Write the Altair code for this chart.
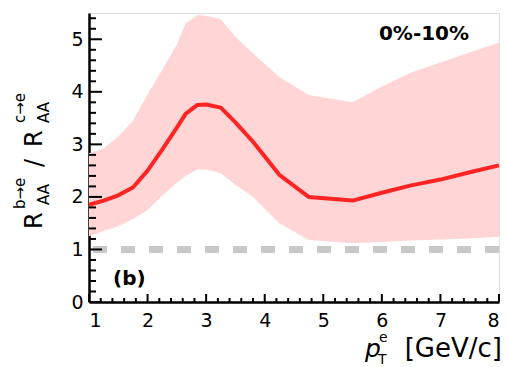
import altair as alt
import pandas as pd

# pT grid (GeV/c), central ratio and uncertainty band edges
pt = [1.0, 1.25, 1.5, 1.75, 2.0, 2.25, 2.5, 2.65, 2.85, 3.0, 3.25, 3.5, 3.8,
      4.25, 4.75, 5.5, 6.0, 6.5, 7.0, 7.5, 8.0]
ratio = [1.85, 1.93, 2.03, 2.18, 2.5, 2.9, 3.32, 3.58, 3.75, 3.76, 3.7, 3.42,
         3.05, 2.42, 2.0, 1.93, 2.08, 2.22, 2.33, 2.47, 2.6]
band_lo = [1.25, 1.35, 1.44, 1.58, 1.75, 2.02, 2.27, 2.4, 2.52, 2.52, 2.45,
           2.23, 2.0, 1.5, 1.18, 1.12, 1.14, 1.17, 1.19, 1.21, 1.24]
band_hi = [2.83, 2.92, 3.15, 3.45, 3.95, 4.42, 4.9, 5.3, 5.46, 5.45, 5.38,
           5.05, 4.73, 4.28, 3.94, 3.8, 4.1, 4.37, 4.56, 4.75, 4.94]

x_labels = [1, 2, 3, 4, 5, 6, 7, 8]
y_labels = [0, 1, 2, 3, 4, 5]
unity = [1.0]

W, H = 410, 289
FONT = "DejaVu Sans"

df = pd.DataFrame({"pt": pt, "ratio": ratio, "lo": band_lo, "hi": band_hi})

xs = alt.Scale(domain=[1, 8], nice=False, zero=False)
ys = alt.Scale(domain=[0, 5.5], nice=False, zero=True)

x_axis = alt.Axis(values=x_labels, title=None, ticks=False, grid=False,
                  labelFontSize=19, labelFont=FONT, labelPadding=9,
                  domainColor="black", domainWidth=2.5, format="d")
y_axis = alt.Axis(values=y_labels, title=None, ticks=False, grid=False,
                  labelFontSize=19, labelFont=FONT, labelPadding=6,
                  domainColor="black", domainWidth=2.5, format="d")

band = alt.Chart(df).mark_area(color="#ffd5d5", interpolate="linear").encode(
    x=alt.X("pt:Q", scale=xs, axis=x_axis),
    y=alt.Y("lo:Q", scale=ys, axis=y_axis),
    y2="hi:Q",
)

line = alt.Chart(df).mark_line(color="#ff2424", strokeWidth=4,
                               interpolate="linear", strokeJoin="round").encode(
    x=alt.X("pt:Q", scale=xs),
    y=alt.Y("ratio:Q", scale=ys),
)

ref = alt.Chart(pd.DataFrame({"y": unity})).mark_rule(
    color="#c8c8c8", strokeWidth=7, strokeDash=[14, 14], strokeDashOffset=-4
).encode(y=alt.Y("y:Q", scale=ys), x=alt.value(0), x2=alt.value(W))

# inward-pointing tick marks
y_major = [0, 1, 2, 3, 4, 5]
y_minor = [round(i * 0.2, 1) for i in range(28) if i % 5 != 0]
x_major = [1, 2, 3, 4, 5, 6, 7, 8]
x_minor = [round(1 + i * 0.2, 1) for i in range(36) if i % 5 != 0]

def yticks(vals, length):
    return alt.Chart(pd.DataFrame({"v": vals})).mark_rule(
        color="black", strokeWidth=2).encode(
        y=alt.Y("v:Q", scale=ys), x=alt.value(0), x2=alt.value(length))

def xticks(vals, length):
    return alt.Chart(pd.DataFrame({"v": vals})).mark_rule(
        color="black", strokeWidth=2).encode(
        x=alt.X("v:Q", scale=xs), y=alt.value(H), y2=alt.value(H - length))

def label(text, x, y, size, **kw):
    return alt.Chart(pd.DataFrame({"t": [text]})).mark_text(
        font=FONT, fontSize=size, color="black", **kw).encode(
        text="t:N", x=alt.value(x), y=alt.value(y))

texts = [
    label("0%-10%", 335, 27, 20, fontWeight="bold", align="center", baseline="alphabetic"),
    label("(b)", 24, 272, 20, fontWeight="bold", align="left", baseline="alphabetic"),
    # x-axis title: p_T^e [GeV/c]
    label("p", 276, 344, 25, fontStyle="italic", align="left", baseline="alphabetic"),
    label("e", 290, 329, 14, align="left", baseline="alphabetic"),
    label("T", 289, 351, 14, align="left", baseline="alphabetic"),
    label("[GeV/c]", 413, 344, 26, align="right", baseline="alphabetic"),
    # y-axis title: R_AA^{b->e} / R_AA^{c->e}, rotated
    label("R", -47, 216, 24, angle=270, align="left", baseline="alphabetic"),
    label("AA", -40, 192, 15, angle=270, align="left", baseline="alphabetic"),
    label("b\u2192e", -64, 196, 15, angle=270, align="left", baseline="alphabetic"),
    label("/", -47, 154, 24, angle=270, align="left", baseline="alphabetic"),
    label("R", -47, 134, 24, angle=270, align="left", baseline="alphabetic"),
    label("AA", -40, 110, 15, angle=270, align="left", baseline="alphabetic"),
    label("c\u2192e", -64, 110, 15, angle=270, align="left", baseline="alphabetic"),
]

chart = alt.layer(
    band, ref, line,
    yticks(y_major, 13), yticks(y_minor, 7),
    xticks(x_major, 8), xticks(x_minor, 4),
    *texts,
).properties(
    width=W, height=H,
    autosize=alt.AutoSizeParams(type="none"),
    padding={"left": 89, "top": 13, "right": 9, "bottom": 65},
).configure_view(
    stroke="#888888", strokeWidth=2
).configure(background="white")

chart.save("out.html", embed_options={"renderer": "svg", "actions": False})
